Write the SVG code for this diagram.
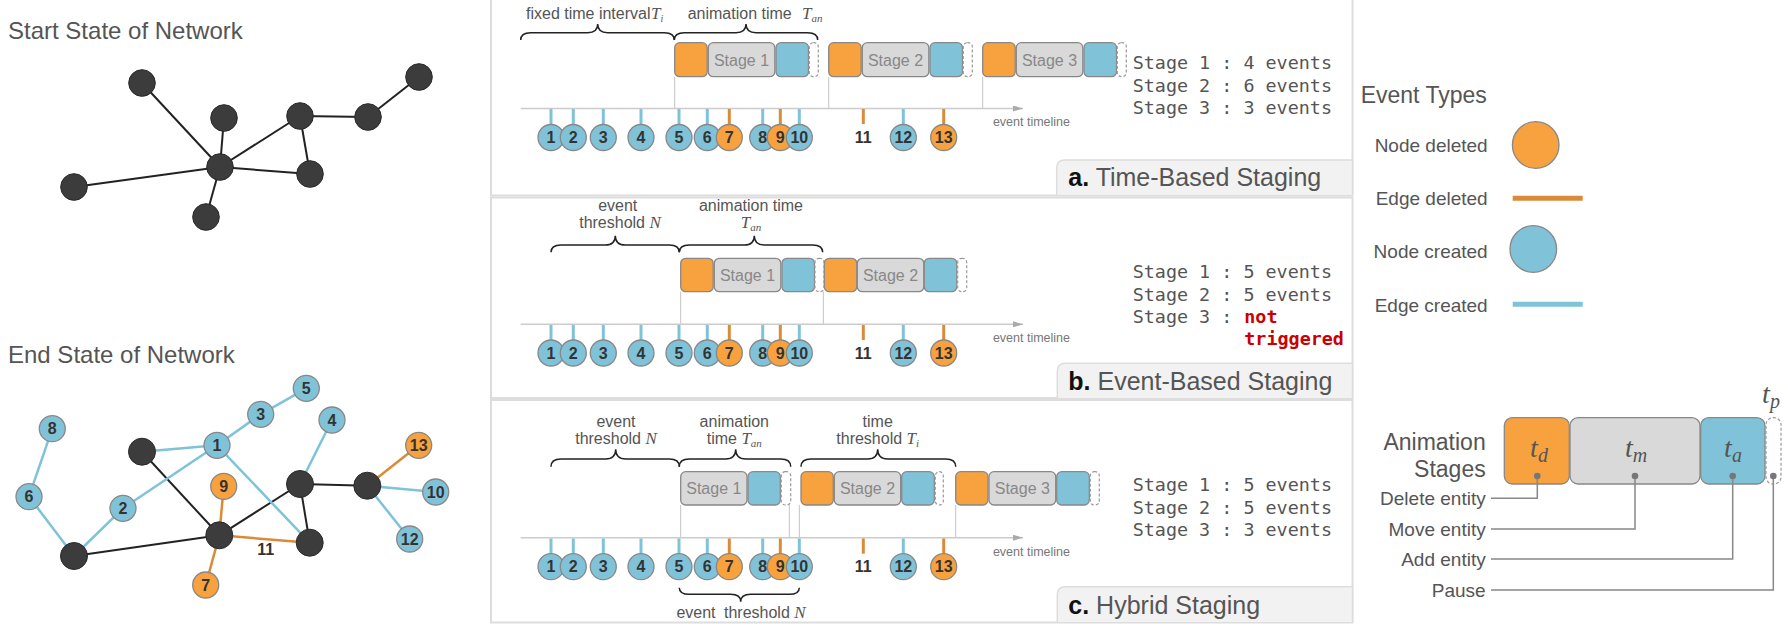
<svg xmlns="http://www.w3.org/2000/svg" width="1788" height="631" viewBox="0 0 1788 631">
<style>
text{font-family:"Liberation Sans",Arial,sans-serif}
.title{font-size:24px;fill:#555}
.eB{stroke:#7fc3d8;stroke-width:2.5;fill:none}
.eO{stroke:#d98b38;stroke-width:2.5;fill:none}
.eK{stroke:#222;stroke-width:2;fill:none}
.nK{fill:#3c3c3c;stroke:#2a2a2a;stroke-width:1}
.nB{fill:#80c3d9;stroke:#888;stroke-width:1.3}
.nO{fill:#f7a23e;stroke:#888;stroke-width:1.3}
.num{font-size:16px;font-weight:bold;fill:#333;text-anchor:middle}
.tl{stroke:#ccc;stroke-width:1.5}
.tkB{stroke:#7fc3d8;stroke-width:3}
.tkO{stroke:#d98b38;stroke-width:3}
.bO{fill:#f7a23e;stroke:#888;stroke-width:1.3}
.bG{fill:#d9d9d9;stroke:#888;stroke-width:1.3}
.bB{fill:#80c3d9;stroke:#888;stroke-width:1.3}
.bD{fill:#fff;stroke:#999;stroke-width:1.2;stroke-dasharray:3 2}
.stg{font-size:16px;fill:#888;text-anchor:middle}
.brace{fill:none;stroke:#222;stroke-width:1.5}
.lbl{font-size:16px;fill:#555}
.mid{text-anchor:middle}
.m{font-family:"Liberation Serif","Times New Roman",serif;font-style:italic}
.mono{font-family:"DejaVu Sans Mono","Liberation Mono",monospace;font-size:18.4px;fill:#555}
.red{fill:#c00;font-weight:bold}
.guide{stroke:#c4c4c4;stroke-width:1}
.tab{fill:#f2f2f2;stroke:#ddd;stroke-width:1.5}
.tabt{font-size:25px;fill:#555}
.panel{fill:none;stroke:#ddd;stroke-width:2}
.evt{font-size:12.5px;fill:#777}
.leg{font-size:19px;fill:#555;text-anchor:end}
.lead{fill:none;stroke:#888;stroke-width:1.5}
</style>
<defs>
<marker id="arr" viewBox="0 0 10 6" refX="10" refY="3" markerWidth="10" markerHeight="6" markerUnits="userSpaceOnUse" orient="auto">
<path d="M0,0 L10,3 L0,6 Z" fill="#aaa"/>
</marker>
</defs>
<rect width="1788" height="631" fill="#fff"/>

<!-- Start network -->
<text class="title" x="8" y="39">Start State of Network</text>
<g id="start-edges">
<line class="eK" x1="142" y1="83" x2="220" y2="167"/>
<line class="eK" x1="224" y1="118" x2="220" y2="167"/>
<line class="eK" x1="220" y1="167" x2="300" y2="116"/>
<line class="eK" x1="300" y1="116" x2="368" y2="117"/>
<line class="eK" x1="368" y1="117" x2="419" y2="77"/>
<line class="eK" x1="300" y1="116" x2="310" y2="174"/>
<line class="eK" x1="220" y1="167" x2="310" y2="174"/>
<line class="eK" x1="74" y1="187" x2="220" y2="167"/>
<line class="eK" x1="220" y1="167" x2="206" y2="217"/>
</g>
<g id="s1"><circle class="nK" cx="142" cy="83" r="13.3"/></g>
<g id="s2"><circle class="nK" cx="224" cy="118" r="13.3"/></g>
<g id="s3"><circle class="nK" cx="300" cy="116" r="13.3"/></g>
<g id="s4"><circle class="nK" cx="368" cy="117" r="13.3"/></g>
<g id="s5"><circle class="nK" cx="419" cy="77" r="13.3"/></g>
<g id="s6"><circle class="nK" cx="74" cy="187" r="13.3"/></g>
<g id="s7"><circle class="nK" cx="220" cy="167" r="13.3"/></g>
<g id="s8"><circle class="nK" cx="310" cy="174" r="13.3"/></g>
<g id="s9"><circle class="nK" cx="206" cy="217" r="13.3"/></g>

<!-- End network -->
<text class="title" x="8" y="363">End State of Network</text>
<g id="end-edges">
<line class="eK" x1="142" y1="451.7" x2="219.3" y2="535.3"/>
<line class="eK" x1="219.3" y1="535.3" x2="300" y2="484"/>
<line class="eK" x1="300" y1="484" x2="309.7" y2="542.7"/>
<line class="eK" x1="300" y1="484" x2="367.3" y2="485.7"/>
<line class="eK" x1="74" y1="556" x2="219.3" y2="535.3"/>
<line class="eB" x1="142" y1="451.7" x2="217" y2="445.3"/>
<line class="eB" x1="217" y1="445.3" x2="260.7" y2="414.3"/>
<line class="eB" x1="260.7" y1="414.3" x2="306.3" y2="388.3"/>
<line class="eB" x1="217" y1="445.3" x2="123" y2="508.3"/>
<line class="eB" x1="217" y1="445.3" x2="309.7" y2="542.7"/>
<line class="eB" x1="123" y1="508.3" x2="74" y2="556"/>
<line class="eB" x1="29" y1="496.7" x2="74" y2="556"/>
<line class="eB" x1="52.3" y1="428.7" x2="29" y2="496.7"/>
<line class="eB" x1="300" y1="484" x2="332" y2="420"/>
<line class="eB" x1="367.3" y1="485.7" x2="435.7" y2="492"/>
<line class="eB" x1="367.3" y1="485.7" x2="409.7" y2="539"/>
<line class="eO" x1="219.3" y1="535.3" x2="223.7" y2="486.3"/>
<line class="eO" x1="219.3" y1="535.3" x2="205.7" y2="585"/>
<line class="eO" x1="219.3" y1="535.3" x2="309.7" y2="542.7"/>
<line class="eO" x1="367.3" y1="485.7" x2="418.7" y2="445.3"/>
<text class="num" x="265.7" y="555">11</text>
</g>
<g id="eA"><circle class="nK" cx="142" cy="451.7" r="13.5"/></g>
<g id="eB"><circle class="nK" cx="74" cy="556" r="13.5"/></g>
<g id="eC"><circle class="nK" cx="219.3" cy="535.3" r="13.5"/></g>
<g id="eD"><circle class="nK" cx="309.7" cy="542.7" r="13.5"/></g>
<g id="eE"><circle class="nK" cx="300" cy="484" r="13.5"/></g>
<g id="eF"><circle class="nK" cx="367.3" cy="485.7" r="13.5"/></g>
<g id="e1"><circle class="nB" cx="217" cy="445.3" r="13"/><text class="num" x="217" y="451">1</text></g>
<g id="e2"><circle class="nB" cx="123" cy="508.3" r="13"/><text class="num" x="123" y="514">2</text></g>
<g id="e3"><circle class="nB" cx="260.7" cy="414.3" r="13"/><text class="num" x="260.7" y="420">3</text></g>
<g id="e4"><circle class="nB" cx="332" cy="420" r="13"/><text class="num" x="332" y="425.7">4</text></g>
<g id="e5"><circle class="nB" cx="306.3" cy="388.3" r="13"/><text class="num" x="306.3" y="394">5</text></g>
<g id="e6"><circle class="nB" cx="29" cy="496.7" r="13"/><text class="num" x="29" y="502.4">6</text></g>
<g id="e7"><circle class="nO" cx="205.7" cy="585" r="13"/><text class="num" x="205.7" y="590.7">7</text></g>
<g id="e8"><circle class="nB" cx="52.3" cy="428.7" r="13"/><text class="num" x="52.3" y="434.4">8</text></g>
<g id="e9"><circle class="nO" cx="223.7" cy="486.3" r="13"/><text class="num" x="223.7" y="492">9</text></g>
<g id="e10"><circle class="nB" cx="435.7" cy="492" r="13"/><text class="num" x="435.7" y="497.7">10</text></g>
<g id="e12"><circle class="nB" cx="409.7" cy="539" r="13"/><text class="num" x="409.7" y="544.7">12</text></g>
<g id="e13"><circle class="nO" cx="418.7" cy="445.3" r="13"/><text class="num" x="418.7" y="451">13</text></g>

<!-- Panels -->
<rect class="panel" x="491" y="-2" width="861.5" height="197.5"/>
<rect class="panel" x="491" y="197.5" width="861.5" height="200.5"/>
<rect class="panel" x="491" y="400" width="861.5" height="222.5"/>

<!-- Panel a -->
<g id="panel-a">
<text class="lbl" x="526" y="19.3">fixed time interval</text>
<text class="m" x="651" y="19.3" font-size="17" fill="#555">T<tspan font-size="10" dy="3">i</tspan></text>
<text class="lbl" x="687.7" y="19.3">animation time</text>
<text class="m" x="802" y="19.3" font-size="17" fill="#555">T<tspan font-size="11" dy="3">an</tspan></text>
<path class="brace" d="M520.7,40 Q520.7,32.7 530.7,32.7 H587.7 Q597.7,32.7 597.7,24 Q597.7,32.7 607.7,32.7 H664.3 Q674.3,32.7 674.3,40"/>
<path class="brace" d="M674.3,40 Q674.3,32.7 684.3,32.7 H736 Q746,32.7 746,24 Q746,32.7 756,32.7 H807.7 Q817.7,32.7 817.7,40"/>
<line class="guide" x1="674.7" y1="77" x2="674.7" y2="108"/>
<line class="guide" x1="828.7" y1="77" x2="828.7" y2="108"/>
<line class="guide" x1="982.7" y1="77" x2="982.7" y2="108"/>
<rect class="bO" x="674.7" y="42.7" width="32.5" height="34" rx="5"/>
<rect class="bG" x="708.3" y="42.7" width="66.5" height="34" rx="5"/>
<rect class="bB" x="776" y="42.7" width="32.5" height="34" rx="5"/>
<rect class="bD" x="809.3" y="42.7" width="9" height="34" rx="4"/>
<text class="stg" x="741.5" y="65.5">Stage 1</text>
<rect class="bO" x="828.7" y="42.7" width="32.5" height="34" rx="5"/>
<rect class="bG" x="862.3" y="42.7" width="66.5" height="34" rx="5"/>
<rect class="bB" x="930" y="42.7" width="32.5" height="34" rx="5"/>
<rect class="bD" x="963.3" y="42.7" width="9" height="34" rx="4"/>
<text class="stg" x="895.5" y="65.5">Stage 2</text>
<rect class="bO" x="982.7" y="42.7" width="32.5" height="34" rx="5"/>
<rect class="bG" x="1016.3" y="42.7" width="66.5" height="34" rx="5"/>
<rect class="bB" x="1084" y="42.7" width="32.5" height="34" rx="5"/>
<rect class="bD" x="1117.3" y="42.7" width="9" height="34" rx="4"/>
<text class="stg" x="1049.5" y="65.5">Stage 3</text>
<line class="tl" x1="520.7" y1="108.5" x2="1023" y2="108.5" marker-end="url(#arr)"/>
<text class="evt" x="1070" y="125.7" text-anchor="end">event timeline</text>
<line class="tkB" x1="551" y1="109" x2="551" y2="124.5"/>
<line class="tkB" x1="573.3" y1="109" x2="573.3" y2="124.5"/>
<line class="tkB" x1="603.3" y1="109" x2="603.3" y2="124.5"/>
<line class="tkB" x1="641" y1="109" x2="641" y2="124.5"/>
<line class="tkB" x1="679" y1="109" x2="679" y2="124.5"/>
<line class="tkB" x1="707.3" y1="109" x2="707.3" y2="124.5"/>
<line class="tkO" x1="729.3" y1="109" x2="729.3" y2="124.5"/>
<line class="tkB" x1="762.7" y1="109" x2="762.7" y2="124.5"/>
<line class="tkO" x1="780.3" y1="109" x2="780.3" y2="124.5"/>
<line class="tkB" x1="799.3" y1="109" x2="799.3" y2="124.5"/>
<line class="tkO" x1="863.3" y1="109" x2="863.3" y2="124"/>
<line class="tkB" x1="903.3" y1="109" x2="903.3" y2="124.5"/>
<line class="tkO" x1="943.7" y1="109" x2="943.7" y2="124.5"/>
<circle class="nB" cx="551" cy="137.5" r="13"/><text class="num" x="551" y="143.2">1</text>
<circle class="nB" cx="573.3" cy="137.5" r="13"/><text class="num" x="573.3" y="143.2">2</text>
<circle class="nB" cx="603.3" cy="137.5" r="13"/><text class="num" x="603.3" y="143.2">3</text>
<circle class="nB" cx="641" cy="137.5" r="13"/><text class="num" x="641" y="143.2">4</text>
<circle class="nB" cx="679" cy="137.5" r="13"/><text class="num" x="679" y="143.2">5</text>
<circle class="nB" cx="707.3" cy="137.5" r="13"/><text class="num" x="707.3" y="143.2">6</text>
<circle class="nO" cx="729.3" cy="137.5" r="13"/><text class="num" x="729.3" y="143.2">7</text>
<circle class="nB" cx="762.7" cy="137.5" r="13"/><text class="num" x="762.7" y="143.2">8</text>
<circle class="nO" cx="780.3" cy="137.5" r="13"/><text class="num" x="780.3" y="143.2">9</text>
<circle class="nB" cx="799.3" cy="137.5" r="13"/><text class="num" x="799.3" y="143.2">10</text>
<text class="num" x="863.3" y="143.2">11</text>
<circle class="nB" cx="903.3" cy="137.5" r="13"/><text class="num" x="903.3" y="143.2">12</text>
<circle class="nO" cx="943.7" cy="137.5" r="13"/><text class="num" x="943.7" y="143.2">13</text>
<text class="mono" x="1132.7" y="69.3">Stage 1 : 4 events</text>
<text class="mono" x="1132.7" y="92.3">Stage 2 : 6 events</text>
<text class="mono" x="1132.7" y="114.3">Stage 3 : 3 events</text>
<path class="tab" d="M1056.7,195 V168 Q1056.7,160 1064.7,160 H1352.5 V195"/>
<text class="tabt" x="1068.3" y="186"><tspan font-weight="bold" fill="#111">a.</tspan> Time-Based Staging</text>
</g>

<!-- Panel b -->
<g id="panel-b">
<text class="lbl mid" x="617.7" y="210.7">event</text>
<text class="lbl mid" x="620" y="228.3">threshold <tspan class="m" font-size="17">N</tspan></text>
<text class="lbl mid" x="751" y="210.7">animation time</text>
<text class="m mid" x="751" y="228.3" font-size="17" fill="#555">T<tspan font-size="11" dy="3">an</tspan></text>
<path class="brace" d="M551,252.3 Q551,245 561,245 H605.3 Q615.3,245 615.3,235.7 Q615.3,245 625.3,245 H669.3 Q679.3,245 679.3,252.3"/>
<path class="brace" d="M679.3,252.3 Q679.3,245 689.3,245 H744.3 Q754.3,245 754.3,235.7 Q754.3,245 764.3,245 H812.7 Q822.7,245 822.7,252.3"/>
<line class="guide" x1="680.7" y1="291.7" x2="680.7" y2="324"/>
<line class="guide" x1="823.3" y1="291.7" x2="823.3" y2="324"/>
<rect class="bO" x="680.7" y="258.3" width="32.5" height="33.4" rx="5"/>
<rect class="bG" x="714.3" y="258.3" width="66.5" height="33.4" rx="5"/>
<rect class="bB" x="782" y="258.3" width="32.5" height="33.4" rx="5"/>
<rect class="bD" x="815" y="258.3" width="9" height="33.4" rx="4"/>
<text class="stg" x="747.5" y="280.8">Stage 1</text>
<rect class="bO" x="824.3" y="258.3" width="32.5" height="33.4" rx="5"/>
<rect class="bG" x="857.3" y="258.3" width="66.5" height="33.4" rx="5"/>
<rect class="bB" x="924.3" y="258.3" width="32.5" height="33.4" rx="5"/>
<rect class="bD" x="957.7" y="258.3" width="9" height="33.4" rx="4"/>
<text class="stg" x="890.5" y="280.8">Stage 2</text>
<line class="tl" x1="520.7" y1="324.3" x2="1023" y2="324.3" marker-end="url(#arr)"/>
<text class="evt" x="1070" y="341.7" text-anchor="end">event timeline</text>
<line class="tkB" x1="551" y1="325" x2="551" y2="340"/>
<line class="tkB" x1="573.3" y1="325" x2="573.3" y2="340"/>
<line class="tkB" x1="603.3" y1="325" x2="603.3" y2="340"/>
<line class="tkB" x1="641" y1="325" x2="641" y2="340"/>
<line class="tkB" x1="679" y1="325" x2="679" y2="340"/>
<line class="tkB" x1="707.3" y1="325" x2="707.3" y2="340"/>
<line class="tkO" x1="729.3" y1="325" x2="729.3" y2="340"/>
<line class="tkB" x1="762.7" y1="325" x2="762.7" y2="340"/>
<line class="tkO" x1="780.3" y1="325" x2="780.3" y2="340"/>
<line class="tkB" x1="799.3" y1="325" x2="799.3" y2="340"/>
<line class="tkO" x1="863.3" y1="325" x2="863.3" y2="340"/>
<line class="tkB" x1="903.3" y1="325" x2="903.3" y2="340"/>
<line class="tkO" x1="943.7" y1="325" x2="943.7" y2="340"/>
<circle class="nB" cx="551" cy="353" r="13"/><text class="num" x="551" y="358.7">1</text>
<circle class="nB" cx="573.3" cy="353" r="13"/><text class="num" x="573.3" y="358.7">2</text>
<circle class="nB" cx="603.3" cy="353" r="13"/><text class="num" x="603.3" y="358.7">3</text>
<circle class="nB" cx="641" cy="353" r="13"/><text class="num" x="641" y="358.7">4</text>
<circle class="nB" cx="679" cy="353" r="13"/><text class="num" x="679" y="358.7">5</text>
<circle class="nB" cx="707.3" cy="353" r="13"/><text class="num" x="707.3" y="358.7">6</text>
<circle class="nO" cx="729.3" cy="353" r="13"/><text class="num" x="729.3" y="358.7">7</text>
<circle class="nB" cx="762.7" cy="353" r="13"/><text class="num" x="762.7" y="358.7">8</text>
<circle class="nO" cx="780.3" cy="353" r="13"/><text class="num" x="780.3" y="358.7">9</text>
<circle class="nB" cx="799.3" cy="353" r="13"/><text class="num" x="799.3" y="358.7">10</text>
<text class="num" x="863.3" y="358.7">11</text>
<circle class="nB" cx="903.3" cy="353" r="13"/><text class="num" x="903.3" y="358.7">12</text>
<circle class="nO" cx="943.7" cy="353" r="13"/><text class="num" x="943.7" y="358.7">13</text>
<text class="mono" x="1132.7" y="277.7">Stage 1 : 5 events</text>
<text class="mono" x="1132.7" y="301">Stage 2 : 5 events</text>
<text class="mono" x="1132.7" y="323">Stage 3 :<tspan class="red" x="1244.3">not</tspan></text>
<text class="mono red" x="1244.3" y="345">triggered</text>
<path class="tab" d="M1057.3,398 V371.3 Q1057.3,363.3 1065.3,363.3 H1352.5 V398"/>
<text class="tabt" x="1068.3" y="390"><tspan font-weight="bold" fill="#111">b.</tspan> Event-Based Staging</text>
</g>

<!-- Panel c -->
<g id="panel-c">
<text class="lbl mid" x="616" y="426.7">event</text>
<text class="lbl mid" x="616" y="444">threshold <tspan class="m" font-size="17">N</tspan></text>
<text class="lbl mid" x="734.3" y="426.7">animation</text>
<text class="lbl mid" x="734.3" y="444">time <tspan class="m" font-size="17">T</tspan><tspan class="m" font-size="11" dy="3">an</tspan></text>
<text class="lbl mid" x="877.7" y="426.7">time</text>
<text class="lbl mid" x="877.7" y="444">threshold <tspan class="m" font-size="17">T</tspan><tspan class="m" font-size="11" dy="3">i</tspan></text>
<path class="brace" d="M551,466.7 Q551,459 561,459 H605.7 Q615.7,459 615.7,449.3 Q615.7,459 625.7,459 H669.3 Q679.3,459 679.3,466.7"/>
<path class="brace" d="M679.3,466.7 Q679.3,459 689.3,459 H725.7 Q735.7,459 735.7,449.3 Q735.7,459 745.7,459 H780.7 Q790.7,459 790.7,466.7"/>
<path class="brace" d="M801,466.7 Q801,459 811,459 H867.7 Q877.7,459 877.7,449.3 Q877.7,459 887.7,459 H945.7 Q955.7,459 955.7,466.7"/>
<line class="guide" x1="680.7" y1="505" x2="680.7" y2="537.5"/>
<line class="guide" x1="789.3" y1="505" x2="789.3" y2="537.5"/>
<line class="guide" x1="799.3" y1="505" x2="799.3" y2="537.5"/>
<line class="guide" x1="955.7" y1="505" x2="955.7" y2="537.5"/>
<rect class="bG" x="680.7" y="471.7" width="66.3" height="33.3" rx="5"/>
<rect class="bB" x="748" y="471.7" width="32.3" height="33.3" rx="5"/>
<rect class="bD" x="781.3" y="471.7" width="9.4" height="33.3" rx="4"/>
<text class="stg" x="713.8" y="494">Stage 1</text>
<rect class="bO" x="801" y="471.7" width="32.3" height="33.3" rx="5"/>
<rect class="bG" x="834.3" y="471.7" width="66.4" height="33.3" rx="5"/>
<rect class="bB" x="901.7" y="471.7" width="32.6" height="33.3" rx="5"/>
<rect class="bD" x="935.3" y="471.7" width="8" height="33.3" rx="4"/>
<text class="stg" x="867.5" y="494">Stage 2</text>
<rect class="bO" x="955.7" y="471.7" width="32.3" height="33.3" rx="5"/>
<rect class="bG" x="989" y="471.7" width="66.7" height="33.3" rx="5"/>
<rect class="bB" x="1056.7" y="471.7" width="32.6" height="33.3" rx="5"/>
<rect class="bD" x="1090.3" y="471.7" width="9" height="33.3" rx="4"/>
<text class="stg" x="1022.3" y="494">Stage 3</text>
<line class="tl" x1="520.7" y1="537.7" x2="1023" y2="537.7" marker-end="url(#arr)"/>
<text class="evt" x="1070" y="555.5" text-anchor="end">event timeline</text>
<line class="tkB" x1="551" y1="538.5" x2="551" y2="553.7"/>
<line class="tkB" x1="573.3" y1="538.5" x2="573.3" y2="553.7"/>
<line class="tkB" x1="603.3" y1="538.5" x2="603.3" y2="553.7"/>
<line class="tkB" x1="641" y1="538.5" x2="641" y2="553.7"/>
<line class="tkB" x1="679" y1="538.5" x2="679" y2="553.7"/>
<line class="tkB" x1="707.3" y1="538.5" x2="707.3" y2="553.7"/>
<line class="tkO" x1="729.3" y1="538.5" x2="729.3" y2="553.7"/>
<line class="tkB" x1="762.7" y1="538.5" x2="762.7" y2="553.7"/>
<line class="tkO" x1="780.3" y1="538.5" x2="780.3" y2="553.7"/>
<line class="tkB" x1="799.3" y1="538.5" x2="799.3" y2="553.7"/>
<line class="tkO" x1="863.3" y1="538.5" x2="863.3" y2="553.7"/>
<line class="tkB" x1="903.3" y1="538.5" x2="903.3" y2="553.7"/>
<line class="tkO" x1="943.7" y1="538.5" x2="943.7" y2="553.7"/>
<circle class="nB" cx="551" cy="566.7" r="13"/><text class="num" x="551" y="572.4">1</text>
<circle class="nB" cx="573.3" cy="566.7" r="13"/><text class="num" x="573.3" y="572.4">2</text>
<circle class="nB" cx="603.3" cy="566.7" r="13"/><text class="num" x="603.3" y="572.4">3</text>
<circle class="nB" cx="641" cy="566.7" r="13"/><text class="num" x="641" y="572.4">4</text>
<circle class="nB" cx="679" cy="566.7" r="13"/><text class="num" x="679" y="572.4">5</text>
<circle class="nB" cx="707.3" cy="566.7" r="13"/><text class="num" x="707.3" y="572.4">6</text>
<circle class="nO" cx="729.3" cy="566.7" r="13"/><text class="num" x="729.3" y="572.4">7</text>
<circle class="nB" cx="762.7" cy="566.7" r="13"/><text class="num" x="762.7" y="572.4">8</text>
<circle class="nO" cx="780.3" cy="566.7" r="13"/><text class="num" x="780.3" y="572.4">9</text>
<circle class="nB" cx="799.3" cy="566.7" r="13"/><text class="num" x="799.3" y="572.4">10</text>
<text class="num" x="863.3" y="572.4">11</text>
<circle class="nB" cx="903.3" cy="566.7" r="13"/><text class="num" x="903.3" y="572.4">12</text>
<circle class="nO" cx="943.7" cy="566.7" r="13"/><text class="num" x="943.7" y="572.4">13</text>
<path class="brace" d="M679.3,587.7 Q679.3,594.3 689.3,594.3 H730.7 Q740.7,594.3 740.7,601.7 Q740.7,594.3 750.7,594.3 H789.3 Q799.3,594.3 799.3,587.7"/>
<text class="lbl mid" x="741" y="617.7">event <tspan dx="4">threshold</tspan> <tspan class="m" font-size="17">N</tspan></text>
<text class="mono" x="1132.7" y="490.7">Stage 1 : 5 events</text>
<text class="mono" x="1132.7" y="513.7">Stage 2 : 5 events</text>
<text class="mono" x="1132.7" y="535.7">Stage 3 : 3 events</text>
<path class="tab" d="M1057.3,622 V594.7 Q1057.3,586.7 1065.3,586.7 H1352.5 V622"/>
<text class="tabt" x="1068.3" y="613.5"><tspan font-weight="bold" fill="#111">c.</tspan> Hybrid Staging</text>
</g>

<!-- Legend: Event types -->
<g id="legend-event-types">
<text x="1360.7" y="102.7" font-size="23" fill="#555">Event Types</text>
<text class="leg" x="1487.7" y="151.7">Node deleted</text>
<circle class="nO" cx="1535.7" cy="145" r="23.3"/>
<text class="leg" x="1487.7" y="205">Edge deleted</text>
<line x1="1512.7" y1="198.3" x2="1582.7" y2="198.3" stroke="#d98b38" stroke-width="5"/>
<text class="leg" x="1487.7" y="257.7">Node created</text>
<circle class="nB" cx="1533.3" cy="249" r="23.3"/>
<text class="leg" x="1487.7" y="311.7">Edge created</text>
<line x1="1512.7" y1="304.3" x2="1582.7" y2="304.3" stroke="#7fc3d8" stroke-width="5"/>
</g>

<!-- Legend: Animation stages -->
<g id="legend-animation-stages">
<text x="1485.7" y="450" font-size="23" fill="#555" text-anchor="end">Animation</text>
<text x="1485.7" y="476.7" font-size="23" fill="#555" text-anchor="end">Stages</text>
<rect class="bO" x="1504.3" y="417.7" width="65" height="66.3" rx="8"/>
<rect class="bG" x="1570" y="417.7" width="130" height="66.3" rx="8"/>
<rect class="bB" x="1700.7" y="417.7" width="64.3" height="66.3" rx="8"/>
<rect class="bD" x="1766" y="417.7" width="15" height="66.3" rx="7"/>
<text class="m mid" x="1539" y="457.3" font-size="28" fill="#555">t<tspan font-size="20" dy="5">d</tspan></text>
<text class="m mid" x="1636" y="457.3" font-size="28" fill="#555">t<tspan font-size="20" dy="5">m</tspan></text>
<text class="m mid" x="1733" y="457.3" font-size="28" fill="#555">t<tspan font-size="20" dy="5">a</tspan></text>
<text class="m mid" x="1771" y="403.3" font-size="28" fill="#555">t<tspan font-size="20" dy="5">p</tspan></text>
<path class="lead" d="M1491,498.3 H1537.3 V476"/>
<path class="lead" d="M1491,529 H1635 V476"/>
<path class="lead" d="M1491,559 H1732.7 V476"/>
<path class="lead" d="M1491,590 H1773.3 V476"/>
<circle cx="1537.3" cy="476" r="3.3" fill="#777"/>
<circle cx="1635" cy="476" r="3.3" fill="#777"/>
<circle cx="1732.7" cy="476" r="3.3" fill="#777"/>
<circle cx="1773.3" cy="476" r="3.3" fill="#777"/>
<text class="leg" x="1485.7" y="505">Delete entity</text>
<text class="leg" x="1485.7" y="535.7">Move entity</text>
<text class="leg" x="1485.7" y="565.7">Add entity</text>
<text class="leg" x="1485.7" y="596.7">Pause</text>
</g>
</svg>
